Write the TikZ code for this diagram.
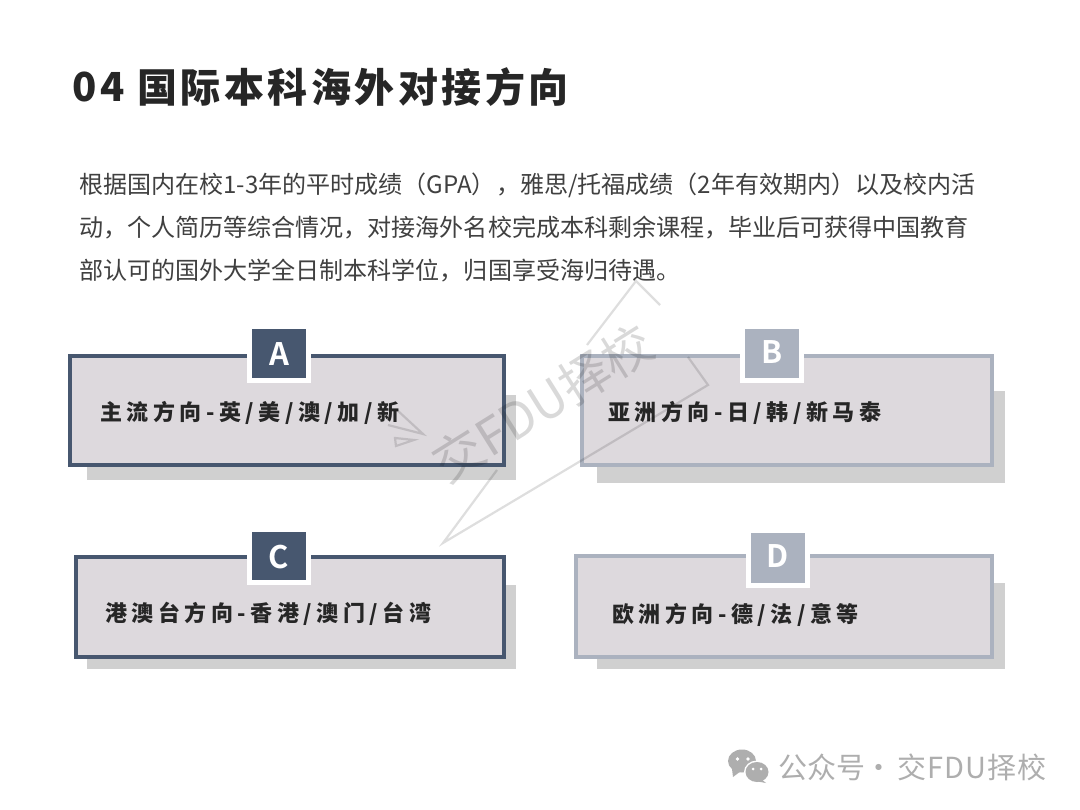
\documentclass[tikz,border=0pt]{standalone}
\usepackage{fontspec}
\setmainfont[BoldFont={Noto Sans CJK SC Bold}]{Noto Sans CJK SC}
\newfontfamily\heavyfont{Noto Sans CJK SC Black}
\usetikzlibrary{calc}
\definecolor{navy}{HTML}{47576F}
\definecolor{steel}{HTML}{ABB2BF}
\definecolor{panel}{HTML}{DDD9DD}
\definecolor{dropgray}{HTML}{D0D0D0}
\definecolor{ink}{HTML}{262626}
\definecolor{bodyink}{HTML}{404040}
\definecolor{footgray}{HTML}{AEAEAE}
\tikzset{
  x=1pt,y=-1pt,
  lab/.style={anchor=west,inner sep=0pt,font=\fontsize{22}{22}\heavyfont\addfontfeature{LetterSpace=20.5},text=ink},
  para/.style={anchor=west,inner sep=0pt,font=\fontsize{24.05}{24}\selectfont,text=bodyink},
  tagtxt/.style={font=\fontsize{31}{31}\bfseries\selectfont,text=white,inner sep=0pt},
  wm/.style={draw=black,opacity=.13,line width=2.2pt},
  foot/.style={anchor=west,inner sep=0pt,font=\fontsize{29}{29}\selectfont,text=footgray},
  dropbox/.style={fill=dropgray},
}
\begin{document}
\begin{tikzpicture}
\useasboundingbox (0,0) rectangle (1080,810);
\fill[white] (0,0) rectangle (1080,810);
\node[anchor=west,inner sep=0pt,font=\fontsize{40}{40}\heavyfont\addfontfeature{LetterSpace=8.7},text=ink] (title) at (72,87) {04};
\node[anchor=west,inner sep=0pt,font=\fontsize{40}{40}\heavyfont\addfontfeature{LetterSpace=8.7},text=ink] (title2) at (137,87) {国际本科海外对接方向};
\node[para] (p1) at (79,185) {根据国内在校1-3年的平时成绩（GPA），雅思/托福成绩（2年有效期内）以及校内活};
\node[para] (p2) at (79,228) {动，个人简历等综合情况，对接海外名校完成本科剩余课程，毕业后可获得中国教育};
\node[para] (p3) at (79,271) {部认可的国外大学全日制本科学位，归国享受海归待遇。};
% drop panels
\path[dropbox] (87,395) rectangle (516,480);
\path[dropbox] (597,391) rectangle (1005,483);
\path[dropbox] (87,585) rectangle (516,669);
\path[dropbox] (597,583) rectangle (1005,669);
% panels
\draw[navy,fill=panel,line width=4pt] (70,356) rectangle (504,465);
\draw[steel,fill=panel,line width=4pt] (582,356) rectangle (992,465);
\draw[navy,fill=panel,line width=4pt] (76,557) rectangle (504,657);
\draw[steel,fill=panel,line width=4pt] (576,556) rectangle (992,657);
% tags
\fill[white] (247,325) rectangle (311,383);
\fill[navy] (252,329) rectangle (306,378);
\node[tagtxt] (ta) at (279,354) {A};
\fill[white] (740,325) rectangle (804,383);
\fill[steel] (745,329) rectangle (799,378);
\node[tagtxt] (tb) at (772,352) {B};
\fill[white] (247,528) rectangle (311,585);
\fill[navy] (252,532) rectangle (306,580);
\node[tagtxt] (tc) at (279,557) {C};
\fill[white] (746,528) rectangle (810,588);
\fill[steel] (751,533) rectangle (805,583);
\node[tagtxt] (td) at (778,556) {D};
% labels
\node[lab] (la) at (100,413) {主流方向-英/美/澳/加/新};
\node[lab] (lb) at (608,413) {亚洲方向-日/韩/新马泰};
\node[lab] (lc) at (105,614) {港澳台方向-香港/澳门/台湾};
\node[lab] (ld) at (612,615) {欧洲方向-德/法/意等};
% watermark
\draw[wm] (497,470) -- (443,543) -- (708,385) -- (688,357);
\draw[wm] (587,345) -- (636,281) -- (660,305);
\draw[wm] (397,410) -- (423,434) -- (388,425);
\draw[wm] (395,438) -- (414,440) -- (396,446) -- cycle;
\node[rotate=32,inner sep=0pt,opacity=.15,font=\fontsize{50}{50}\selectfont,text=black] (wmt) at (543,403) {交FDU择校};
% footer icon
\fill[footgray] (742,761) ellipse (14 and 11.5);
\fill[footgray] (732,769) -- (733,777) -- (741,771) -- cycle;
\fill[white] (757,772) ellipse (13 and 11.5);
\fill[footgray] (757,772) ellipse (11.5 and 10);
\fill[footgray] (761,779) -- (766,783) -- (755,781) -- cycle;
\fill[white] (737.5,759) circle (1.8) (748,759) circle (1.8) (753,769) circle (1.5) (761,769) circle (1.5);
\node[foot] (fo1) at (778,767) {公众号};
\node[foot] (fo2) at (864,771) {·};
\node[foot,font=\fontsize{29}{29}\selectfont\addfontfeature{LetterSpace=4}] (fo3) at (897,767) {交FDU择校};
\end{tikzpicture}
\end{document}
